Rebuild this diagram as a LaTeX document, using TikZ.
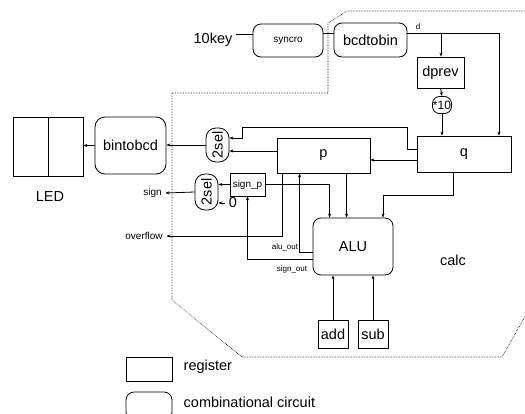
\documentclass[tikz,border=0pt]{standalone}
\usepackage{fontspec}
\setmainfont{Liberation Sans}
\usetikzlibrary{arrows.meta}
\begin{document}
\begin{tikzpicture}[x=1pt,y=-1pt,
  line width=0.8pt,
  reg/.style={draw, rectangle, inner sep=0pt},
  comb/.style={draw, rectangle, rounded corners=8pt, inner sep=0pt},
  big/.style={font=\fontsize{14.5}{16}\selectfont},
  small/.style={font=\fontsize{10}{11}\selectfont},
  tiny/.style={font=\fontsize{8}{9}\selectfont},
  arr/.style={-{Stealth[length=4pt,width=3pt]}},
  bound/.style={densely dotted, line width=0.6pt}]
\useasboundingbox (0,0) rectangle (525,413);
\clip (0,0) rectangle (525,413);
% boundary of calc
\draw[bound] (172,93) -- (328,93) -- (328,23) -- (347,11) -- (527,11) -- (527,313)
  -- (502,357) -- (242,357) -- (172,300) -- cycle;
% nodes
\node[big] (tenkey) at (213,40) {10key};
\node[comb, minimum width=70pt, minimum height=33pt, small] (syn) at (288,40.5) {syncro};
\node[comb, minimum width=73pt, minimum height=34pt, big] (bcd) at (370.5,40) {bcdtobin};
\node[reg, minimum width=47pt, minimum height=31pt, big] (dprev) at (440.5,72.5) {dprev};
\node[comb, rounded corners=7pt, minimum width=19pt, minimum height=17pt, font=\fontsize{12}{13}\selectfont] (ten) at (442,105) {*10};
\node[reg, minimum width=94pt, minimum height=36pt, big] (q) at (464,154) {q};
\node[reg, minimum width=93pt, minimum height=35pt, big] (p) at (323.5,155.5) {p};
\node[comb, rounded corners=10pt, minimum width=23pt, minimum height=34pt, big] (sel1) at (217.5,145) {\rotatebox{90}{2sel}};
\node[comb, rounded corners=10pt, minimum width=23pt, minimum height=36pt, big] (sel2) at (206.5,192) {\rotatebox{90}{2sel}};
\node[reg, minimum width=35pt, minimum height=23pt, small] (sp) at (247.5,184.5) {sign\_p};
\node[comb, minimum width=80pt, minimum height=57pt, big] (alu) at (353,246.5) {ALU};
\node[reg, minimum width=30pt, minimum height=28pt, big] (add) at (333,334) {add};
\node[reg, minimum width=30pt, minimum height=28pt, big] (sub) at (373,334) {sub};
\node[comb, rounded corners=10pt, minimum width=71pt, minimum height=57pt, big] (bin) at (130.5,145.5) {bintobcd};
\node[reg, minimum width=70pt, minimum height=59pt] (led) at (48,146.5) {};
\draw (led.north) -- (led.south);
\node[big] (ledl) at (50,197) {LED};
\node[small] (sign) at (152.5,193) {sign};
\node[small] (ovf) at (144,236) {overflow};
\node[big] (zero) at (233,203) {0};
\node[tiny] (aluout) at (285,247) {alu\_out};
\node[tiny] (signout) at (292,269) {sign\_out};
\node[big] (calc) at (453,260) {calc};
\node[tiny] (dl) at (418,27) {d};
% legend
\node[reg, minimum width=46pt, minimum height=24pt] (lreg) at (149,369) {};
\node[big, anchor=west] (lregt) at (180,367) {register};
\node[comb, minimum width=46pt, minimum height=28pt] (lcomb) at (149,406) {};
\node[big, anchor=west] (lcombt) at (180,402) {combinational circuit};
% connectors
\draw ([yshift=6pt]tenkey.east) -- ([yshift=6pt]tenkey.east -| syn.west);
\draw ([yshift=7pt]syn.east) -- ([yshift=7pt]syn.east -| bcd.west);
\draw[arr] ([yshift=7pt]bcd.east) -- (499,33) -- ([xshift=35pt]q.north);
\draw[arr] (441,33) -- (441,33 |- dprev.north);
\draw[arr] (dprev.south) -- (ten.north);
\draw[arr] (ten.south) -- (ten.south |- q.north);
\draw[arr] ([yshift=5pt]q.west) -- (407,149) -- (407,127) -- (242,127) -- (242,138) -- ([yshift=7pt]sel1.east);
\draw[arr] ([yshift=4.5pt]p.west) -- ([yshift=4.5pt]p.west -| sel1.east);
\draw[arr] ([yshift=-6pt]q.west) -- ([yshift=-6pt]q.west -| p.east);
\draw[arr] (sel1.west) -- (sel1.west -| bin.east);
\draw[arr] (bin.west) -- (bin.west -| led.east);
\draw[arr] (sp.west) -- (sp.west -| sel2.east);
\draw[arr] (zero.west) -- (zero.west -| sel2.east);
\draw[arr] (sel2.west) -- (sign.east);
\draw[arr] ([xshift=6pt]p.south west) |- (ovf.east);
\draw[arr] (sp.east) -| ([xshift=17pt]alu.north west);
\draw[arr] ([xshift=70pt]p.south west) -- ([xshift=34pt]alu.north west);
\draw[arr] ([xshift=-11pt]q.south) -- (453,195) -- (383,195) -- ([xshift=30pt]alu.north);
\draw[arr] ([yshift=-5.5pt]alu.west) -| ([xshift=23pt]p.south west);
\draw[arr] ([yshift=-12.5pt]alu.west) -| (sp.south);
\draw[arr] (add.north) -- (add.north |- alu.south);
\draw[arr] (sub.north) -- (sub.north |- alu.south);
\end{tikzpicture}
\end{document}
